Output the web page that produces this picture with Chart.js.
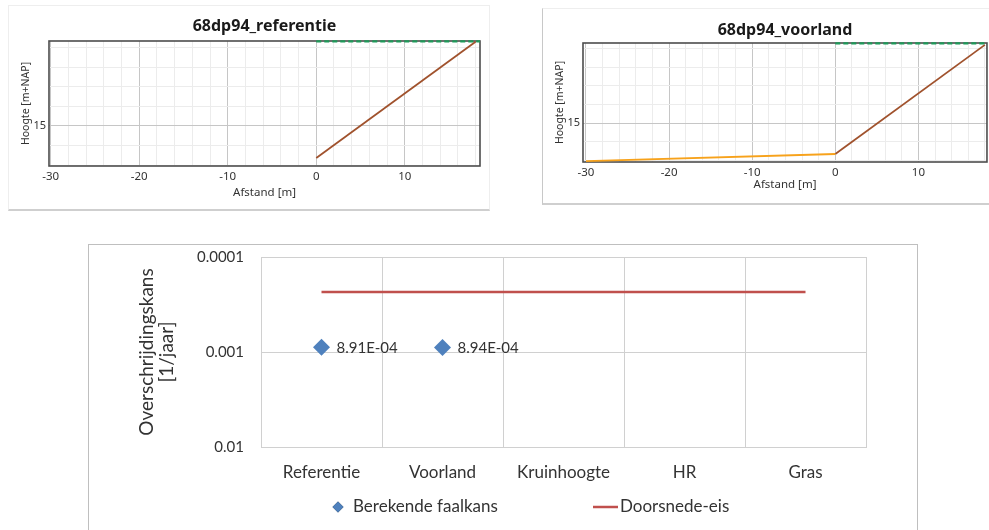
<!DOCTYPE html>
<html>
<head>
<meta charset="utf-8">
<script src="https://cdn.jsdelivr.net/npm/chart.js@4/dist/chart.umd.min.js"></script>
<style>
  html, body { margin:0; padding:0; background:#ffffff; width:989px; height:530px; overflow:hidden; }
  .panel { position:absolute; box-sizing:border-box; }
  #p1 { left:8px; top:5px; width:482px; height:206px; border:1px solid #eeeeee; border-bottom:2px solid #cfcfcf; }
  #p2 { left:542px; top:8px; width:460px; height:197px; border:1px solid #eeeeee; border-left:1px solid #c8c8c8; border-bottom:2px solid #cfcfcf; }
  #p3 { left:88px; top:244px; width:830px; height:300px; border:1px solid #bfbfbf; }
  canvas { position:absolute; }
</style>
</head>
<body>
<div class="panel" id="p1"></div>
<div class="panel" id="p2"></div>
<div class="panel" id="p3"></div>
<canvas id="c1" width="482" height="205" style="left:8px;top:5px;"></canvas>
<canvas id="c2" width="447" height="196" style="left:542px;top:8px;"></canvas>
<canvas id="c3" width="827" height="285" style="left:89px;top:245px;"></canvas>
<script>
// ---------- data: profile charts ----------
const refTitle = '68dp94_referentie';
const voorTitle = '68dp94_voorland';
const refDikeX = [0, 18];
const refDikeY = [13.36, 19.31];
const refCrestX = [0, 18.5];
const refCrestY = [19.33, 19.33];
const voorForeshoreX = [-30, 0];
const voorForeshoreY = [12.96, 13.34];
const voorDikeX = [0, 18];
const voorDikeY = [13.34, 19.2];
const voorCrestX = [0, 18.3];
const voorCrestY = [19.28, 19.28];
const profileXLabelTicks = [-30, -20, -10, 0, 10];
const profileYLabelTicks = [15];

// ---------- data: probability chart ----------
const categories = ['Referentie', 'Voorland', 'Kruinhoogte', 'HR', 'Gras'];
const berekendeFaalkans = [8.91e-4, 8.94e-4, null, null, null];
const doorsnedeEis = [2.33e-4, 2.33e-4, 2.33e-4, 2.33e-4, 2.33e-4];
const probTicks = [0.0001, 0.001, 0.01];
const seriesNames = ['Berekende faalkans', 'Doorsnede-eis'];

const pts = (xs, ys) => xs.map((x, i) => ({x: x, y: ys[i]}));

const framePlugin = {
  id: 'frame',
  beforeDatasetsDraw(chart) {
    const {ctx, chartArea: a} = chart;
    ctx.save();
    ctx.strokeStyle = '#4d4d4d';
    ctx.lineWidth = 1.6;
    ctx.strokeRect(a.left, a.top, a.right - a.left, a.bottom - a.top);
    ctx.restore();
  }
};

function profileChart(id, title, datasets, xr, yr, lay) {
  const font = {family: "'Noto Sans', 'DejaVu Sans', sans-serif", size: 11.5};
  return new Chart(document.getElementById(id), {
    type: 'scatter',
    data: {datasets: datasets},
    options: {
      responsive: false, animation: false, devicePixelRatio: 1,
      layout: {padding: {left: 0, right: lay.right, top: 0, bottom: 0}},
      plugins: {
        legend: {display: false}, tooltip: {enabled: false},
        title: {display: true, text: title, fullSize: false, color: '#1a1a1a',
                font: {family: "'Noto Sans', 'DejaVu Sans', sans-serif", size: 16, weight: 'bold'},
                padding: {top: lay.tpt, bottom: lay.tpb}}
      },
      scales: {
        x: {
          type: 'linear', min: xr[0], max: xr[1],
          afterFit: s => { s.height = lay.xh; },
          border: {display: false},
          grid: {drawTicks: false, lineWidth: 1,
                 color: c => profileXLabelTicks.includes(c.tick.value) ? '#c6c6c6' : '#ececec'},
          ticks: {stepSize: 2, includeBounds: false, autoSkip: false, maxRotation: 0, padding: lay.xtp,
                  color: '#333', font: font,
                  callback: v => profileXLabelTicks.includes(v) ? String(v) : ''},
          title: {display: true, text: 'Afstand [m]', color: '#333', font: font,
                  padding: {top: 0, bottom: lay.xtitle}}
        },
        y: {
          type: 'linear', min: yr[0], max: yr[1],
          afterFit: s => { s.width = 41; },
          border: {display: false},
          grid: {drawTicks: false, lineWidth: 1,
                 color: c => profileYLabelTicks.includes(c.tick.value) ? '#c6c6c6' : '#ececec'},
          ticks: {stepSize: 1, includeBounds: false, autoSkip: false, padding: 3,
                  color: '#333', font: {family: font.family, size: 11},
                  callback: v => profileYLabelTicks.includes(v) ? String(v) : ''},
          title: {display: true, text: 'Hoogte [m+NAP]', color: '#333', font: {family: font.family, size: 10.5},
                  padding: {top: 12, bottom: 0}}
        }
      }
    },
    plugins: [framePlugin]
  });
}

const brown = '#a0522d', orange = '#f7a21b', green = '#1f9a5a';
function lineDs(data, color, dash, w) {
  return {data: data, showLine: true, borderColor: color, backgroundColor: color,
          borderWidth: w || 1.8, pointRadius: 0, borderDash: dash || [], clip: 3};
}

profileChart('c1', refTitle, [
  lineDs(pts(refCrestX, refCrestY), green, [5, 3], 2.2),
  lineDs(pts(refDikeX, refDikeY), brown)
], [-30.2, 18.5], [12.95, 19.35], {right: 10, tpt: 11.4, tpb: 5.4, xh: 44, xtp: 4, xtitle: 10.1});

profileChart('c2', voorTitle, [
  lineDs(pts(voorCrestX, voorCrestY), green, [5, 3], 2.2),
  lineDs(pts(voorForeshoreX, voorForeshoreY), orange),
  lineDs(pts(voorDikeX, voorDikeY), brown)
], [-30.36, 18.25], [12.91, 19.3], {right: 1, tpt: 12.4, tpb: 3.4, xh: 42, xtp: 4.1, xtitle: 12.1});

// ---------- probability chart ----------
const blue = '#4f81bd', red = '#c0504d';
const lato = "Lato, 'Open Sans', sans-serif";
const txt = '#333333';

function fmtExp(v) {
  const e = Math.floor(Math.log10(v));
  const m = v / Math.pow(10, e);
  const es = (e < 0 ? '-' : '+') + String(Math.abs(e)).padStart(2, '0');
  return m.toFixed(2) + 'E' + es;
}

const labelsPlugin = {
  id: 'valueLabels',
  afterDatasetsDraw(chart) {
    const {ctx} = chart;
    const meta = chart.getDatasetMeta(0);
    ctx.save();
    ctx.font = '15px ' + lato;
    ctx.fillStyle = txt;
    ctx.textBaseline = 'middle';
    ctx.textAlign = 'left';
    meta.data.forEach((el, i) => {
      const v = chart.data.datasets[0].data[i];
      if (v == null) return;
      ctx.fillText(fmtExp(v), el.x + 15, el.y + 1);
    });
    ctx.restore();
  }
};

const legendPlugin = {
  id: 'bottomLegend',
  afterDraw(chart) {
    const {ctx} = chart;
    const ds = chart.data.datasets;
    const y = 262;
    ctx.save();
    ctx.font = '17px ' + lato;
    ctx.fillStyle = txt;
    ctx.textBaseline = 'middle';
    ctx.textAlign = 'left';
    Chart.helpers.drawPoint(ctx, {pointStyle: 'rectRot', radius: 5.5, borderWidth: 0}, 249, y);
    ctx.fillStyle = ds[0].backgroundColor;
    ctx.fill();
    ctx.fillStyle = txt;
    ctx.fillText(ds[0].label, 264, y);
    ctx.strokeStyle = ds[1].borderColor;
    ctx.lineWidth = 2.5;
    ctx.beginPath(); ctx.moveTo(504, y); ctx.lineTo(529, y); ctx.stroke();
    ctx.fillText(ds[1].label, 531, y);
    ctx.restore();
  }
};

new Chart(document.getElementById('c3'), {
  type: 'line',
  data: {
    labels: categories,
    datasets: [
      {label: seriesNames[0], data: berekendeFaalkans, showLine: false,
       pointStyle: 'rectRot', pointRadius: 8.5, pointBorderWidth: 0,
       backgroundColor: blue, borderColor: blue, order: 0},
      {label: seriesNames[1], data: doorsnedeEis, borderColor: red, backgroundColor: red,
       borderWidth: 2.5, pointRadius: 0, order: 1}
    ]
  },
  options: {
    responsive: false, animation: false, devicePixelRatio: 1,
    layout: {padding: {left: 0, right: 50, top: 12, bottom: 0}},
    plugins: {legend: {display: false}, tooltip: {enabled: false}},
    scales: {
      x: {
        type: 'category', offset: true,
        afterFit: s => { s.height = 83; },
        border: {display: true, color: '#d0d0d0'},
        grid: {offset: true, drawTicks: false, color: '#d0d0d0'},
        ticks: {padding: 15, color: txt, font: {family: lato, size: 17}, maxRotation: 0}
      },
      y: {
        type: 'logarithmic', reverse: true, min: probTicks[0], max: probTicks[probTicks.length - 1],
        afterFit: s => { s.width = 172; },
        afterBuildTicks: s => { s.ticks = probTicks.map(v => ({value: v})); },
        border: {display: true, color: '#d0d0d0'},
        grid: {drawTicks: true, tickLength: 17, tickColor: 'rgba(0,0,0,0)', color: '#d0d0d0'},
        ticks: {padding: 0, color: txt, font: {family: lato, size: 15},
                callback: v => String(v)},
        title: {display: true, text: ['Overschrijdingskans', '[1/jaar]'], color: txt,
                font: {family: lato, size: 19, lineHeight: 1.05},
                padding: {top: 48, bottom: 0}}
      }
    }
  },
  plugins: [labelsPlugin, legendPlugin]
});
</script>
</body>
</html>
